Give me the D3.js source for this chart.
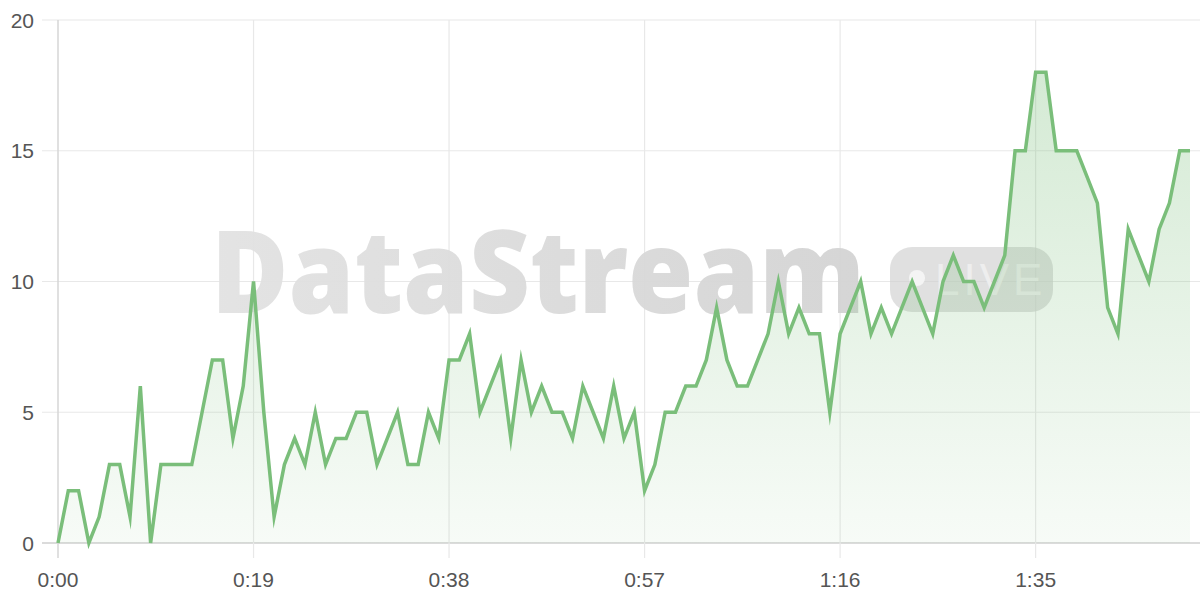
<!DOCTYPE html>
<html>
<head>
<meta charset="utf-8">
<script src="https://cdn.jsdelivr.net/npm/d3@7"></script>
<style>
html,body{margin:0;padding:0;background:#fff;}
svg{display:block;}
</style>
</head>
<body>
<svg id="chart" width="1200" height="600"></svg>
<script>
// seconds 0..110
const seconds = d3.range(0, 111);
const values = [
  0,2,2,0,1,3,3,1,6,0,
  3,3,3,3,5,7,7,4,6,10,
  5,1,3,4,3,5,3,4,4,5,
  5,3,4,5,3,3,5,4,7,7,
  8,5,6,7,4,7,5,6,5,5,
  4,6,5,4,6,4,5,2,3,5,
  5,6,6,7,9,7,6,6,7,8,
  10,8,9,8,8,5,8,9,10,8,
  9,8,9,10,9,8,10,11,10,10,
  9,10,11,15,15,18,18,15,15,15,
  14,13,9,8,12,11,10,12,13,15,
  15
];
const xTicks = [0, 19, 38, 57, 76, 95];
const xTickLabels = ["0:00", "0:19", "0:38", "0:57", "1:16", "1:35"];
const yTicks = [0, 5, 10, 15, 20];

const data = seconds.map((s, i) => ({s, v: values[i]}));

const svg = d3.select("#chart");
const x = d3.scaleLinear().domain([0, 110]).range([58, 1190]);
const y = d3.scaleLinear().domain([0, 20]).range([543, 20]);

const defs = svg.append("defs");
const grad = defs.append("linearGradient").attr("id", "fillGrad")
  .attr("gradientUnits", "userSpaceOnUse")
  .attr("x1", 0).attr("x2", 0).attr("y1", y(18)).attr("y2", y(0));
grad.append("stop").attr("offset", "0%").attr("stop-color", "rgb(122,190,122)").attr("stop-opacity", 0.32);
grad.append("stop").attr("offset", "100%").attr("stop-color", "rgb(122,190,122)").attr("stop-opacity", 0.06);

const wmGrad = defs.append("linearGradient").attr("id", "wmGrad")
  .attr("gradientUnits", "userSpaceOnUse")
  .attr("x1", 210).attr("x2", 1055).attr("y1", 0).attr("y2", 0);
wmGrad.append("stop").attr("offset", "0%").attr("stop-color", "#e2e2e2");
wmGrad.append("stop").attr("offset", "100%").attr("stop-color", "#cfcfcf");

// horizontal gridlines
svg.append("g").selectAll("line").data(yTicks).join("line")
  .attr("x1", 42).attr("x2", 1200)
  .attr("y1", d => y(d)).attr("y2", d => y(d))
  .attr("stroke", d => d === 0 ? "#cfcfcf" : "#e8e8e8")
  .attr("stroke-width", d => d === 0 ? 1.5 : 1.2);

// vertical gridlines
svg.append("g").selectAll("line").data(xTicks).join("line")
  .attr("x1", d => x(d)).attr("x2", d => x(d))
  .attr("y1", y(20)).attr("y2", 558)
  .attr("stroke", d => d === 0 ? "#d6d6d6" : "#e8e8e8")
  .attr("stroke-width", d => d === 0 ? 1.5 : 1.2);

// watermark
const wm = svg.append("g").attr("class", "watermark");
wm.append("text")
  .attr("x", 211).attr("y", 313)
  .attr("font-family", "'Open Sans', 'Liberation Sans', Arial, sans-serif")
  .attr("font-weight", 800)
  .attr("font-size", 116)
  .attr("textLength", 654)
  .attr("lengthAdjust", "spacingAndGlyphs")
  .attr("fill", "url(#wmGrad)")
  .attr("fill-opacity", 0.95)
  .text("DataStream");
wm.append("rect")
  .attr("x", 890).attr("y", 247).attr("width", 163).attr("height", 65)
  .attr("rx", 22).attr("ry", 22)
  .attr("fill", "#cfcfcf").attr("fill-opacity", 0.65);
wm.append("circle").attr("cx", 917).attr("cy", 278).attr("r", 8)
  .attr("fill", "#f4f4f4");
wm.append("text")
  .attr("x", 935).attr("y", 295)
  .attr("font-family", "'Liberation Sans', Arial, sans-serif")
  .attr("font-size", 44)
  .attr("letter-spacing", 4)
  .attr("fill", "#eeeeee")
  .text("LIVE");

// area + line
const area = d3.area().x(d => x(d.s)).y0(y(0)).y1(d => y(d.v));
const line = d3.line().x(d => x(d.s)).y(d => y(d.v));
svg.append("path").datum(data).attr("d", area).attr("fill", "url(#fillGrad)");
svg.append("path").datum(data).attr("d", line)
  .attr("fill", "none").attr("stroke", "rgb(122,190,122)")
  .attr("stroke-width", 3.5).attr("stroke-linejoin", "miter").attr("stroke-miterlimit", 10);

// axis labels
svg.append("g").selectAll("text").data(yTicks).join("text")
  .attr("x", 34).attr("y", d => y(d)).attr("dy", "0.36em")
  .attr("text-anchor", "end")
  .attr("font-family", "'Liberation Sans', Arial, sans-serif")
  .attr("font-size", 21).attr("fill", "#555")
  .text(d => d);
svg.append("g").selectAll("text").data(xTicks).join("text")
  .attr("x", d => x(d)).attr("y", 579).attr("dy", "0.36em")
  .attr("text-anchor", "middle")
  .attr("font-family", "'Liberation Sans', Arial, sans-serif")
  .attr("font-size", 21).attr("fill", "#555")
  .text((d, i) => xTickLabels[i]);
</script>
</body>
</html>
